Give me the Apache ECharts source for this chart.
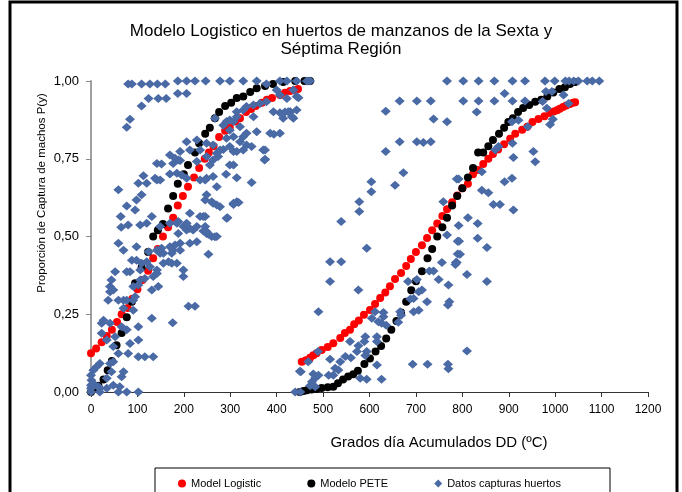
<!DOCTYPE html>
<html>
<head>
<meta charset="utf-8">
<title>Modelo Logistico</title>
<script src="https://cdn.jsdelivr.net/npm/echarts@6/dist/echarts.min.js"></script>
<style>
  html, body { margin: 0; padding: 0; background: #fff; }
  #chart { width: 682px; height: 492px; }
</style>
</head>
<body>
<div id="chart"></div>
<script>
// axis ticks
var xTicks = [0, 100, 200, 300, 400, 500, 600, 700, 800, 900, 1000, 1100, 1200]
var yTicks = [0, 0.25, 0.5, 0.75, 1]

var seriesNames = ['Model Logistic', 'Modelo PETE', 'Datos capturas huertos']

// Model Logistic (two groups of orchards)
var logisticLeft = [
  [0, 0.125], [11, 0.14], [23, 0.16], [34, 0.18], [45, 0.2], [56, 0.225], [66, 0.25], [79, 0.27],
  [89, 0.3], [100, 0.33], [111, 0.36], [123, 0.39], [134, 0.43], [144, 0.46], [155, 0.5], [166, 0.53],
  [177, 0.56], [187, 0.6], [198, 0.63], [209, 0.66], [222, 0.69], [233, 0.72], [245, 0.75], [254, 0.77],
  [264, 0.79], [276, 0.82], [289, 0.84], [299, 0.85], [311, 0.87], [321, 0.88], [334, 0.9], [345, 0.91],
  [355, 0.92], [368, 0.93], [379, 0.94], [390, 0.945], [407, 0.955], [418, 0.962], [429, 0.968],
  [438, 0.97], [446, 0.974]
]
var logisticRight = [
  [454, 0.097], [463, 0.102], [472, 0.11], [479, 0.118], [486, 0.125], [497, 0.135], [510, 0.145],
  [522, 0.157], [537, 0.174], [547, 0.19], [558, 0.2], [567, 0.218], [577, 0.23], [588, 0.248],
  [601, 0.264], [612, 0.283], [623, 0.302], [634, 0.32], [644, 0.34], [655, 0.363], [668, 0.383],
  [679, 0.405], [689, 0.428], [700, 0.45], [713, 0.472], [724, 0.495], [735, 0.52], [746, 0.542],
  [757, 0.566], [767, 0.588], [778, 0.61], [789, 0.632], [800, 0.655], [812, 0.67], [823, 0.7],
  [834, 0.714], [845, 0.733], [856, 0.75], [866, 0.765], [877, 0.78], [890, 0.797], [903, 0.814],
  [914, 0.83], [929, 0.843], [940, 0.853], [951, 0.868], [964, 0.878], [977, 0.887], [989, 0.897],
  [997, 0.902], [1004, 0.906], [1010, 0.911], [1017, 0.916], [1024, 0.921], [1032, 0.926],
  [1038, 0.93], [1043, 0.932]
]

// Modelo PETE
var peteLeft = [
  [0, 0], [8, 0.01], [16, 0.02], [27, 0.04], [36, 0.07], [45, 0.1], [55, 0.15], [66, 0.19],
  [77, 0.24], [88, 0.29], [95, 0.35], [109, 0.4], [123, 0.45], [134, 0.5], [144, 0.52], [155, 0.54],
  [166, 0.59], [177, 0.63], [187, 0.67], [200, 0.7], [209, 0.73], [224, 0.77], [233, 0.8], [246, 0.83],
  [256, 0.85], [267, 0.88], [276, 0.9], [289, 0.92], [302, 0.93], [314, 0.945], [328, 0.95],
  [343, 0.965], [357, 0.977], [375, 0.984], [392, 0.99], [414, 0.997], [440, 1], [460, 1], [472, 1]
]
var peteRight = [
  [450, 0], [458, 0.003], [465, 0.006], [475, 0.008], [486, 0.01], [497, 0.013], [510, 0.015],
  [522, 0.017], [532, 0.028], [543, 0.04], [554, 0.05], [565, 0.057], [575, 0.068], [589, 0.09],
  [601, 0.108], [613, 0.13], [625, 0.148], [636, 0.172], [647, 0.2], [658, 0.228], [668, 0.256],
  [679, 0.29], [690, 0.327], [700, 0.356], [713, 0.388], [725, 0.43], [735, 0.46], [746, 0.5],
  [757, 0.53], [767, 0.56], [778, 0.6], [789, 0.63], [800, 0.655], [812, 0.69], [823, 0.72],
  [834, 0.77], [845, 0.77], [856, 0.79], [866, 0.81], [879, 0.83], [890, 0.85], [899, 0.868],
  [909, 0.88], [920, 0.9], [931, 0.913], [944, 0.923], [957, 0.933], [970, 0.94], [983, 0.95],
  [996, 0.963], [1009, 0.974], [1021, 0.98], [1032, 0.99], [1043, 0.997]
]

// Datos capturas huertos
var capturasLeft = [
  [80, 0.99], [88, 0.99], [109, 0.99], [127, 0.99], [143, 0.99], [160, 0.99],
  [187, 1], [206, 1], [224, 1], [247, 1], [278, 1], [299, 1], [328, 1], [357, 1], [378, 0.99],
  [407, 1], [422, 1], [443, 1], [465, 1], [472, 1],
  [124, 0.944], [145, 0.944], [162, 0.944], [187, 0.96], [206, 0.96], [109, 0.92], [84, 0.877], [77, 0.851],
  [400, 0.971], [407, 0.955], [422, 0.944], [378, 0.933], [364, 0.928], [350, 0.923], [335, 0.918],
  [328, 0.907], [314, 0.901], [393, 0.901], [407, 0.898], [429, 0.901], [436, 0.88], [414, 0.88],
  [350, 0.885], [314, 0.885], [299, 0.875], [285, 0.858], [299, 0.842], [321, 0.853], [357, 0.837],
  [386, 0.832], [407, 0.832], [335, 0.832], [307, 0.821], [292, 0.816], [321, 0.805], [335, 0.794],
  [299, 0.789], [263, 0.794], [249, 0.8], [228, 0.81], [206, 0.805], [192, 0.773], [213, 0.778],
  [235, 0.778], [249, 0.757], [278, 0.778], [307, 0.773], [328, 0.778], [371, 0.778], [375, 0.748],
  [170, 0.762], [181, 0.752], [188, 0.746], [271, 0.768], [263, 0.746], [228, 0.741], [192, 0.744],
  [177, 0.735], [142, 0.735], [152, 0.733], [138, 0.687], [149, 0.682], [185, 0.703], [170, 0.701],
  [195, 0.698], [206, 0.687], [113, 0.695], [102, 0.671], [120, 0.671], [142, 0.682], [235, 0.682],
  [249, 0.687], [271, 0.66], [263, 0.693], [299, 0.73], [307, 0.73], [346, 0.674], [59, 0.65],
  [109, 0.634], [98, 0.617], [77, 0.598], [95, 0.585], [131, 0.564], [106, 0.537], [80, 0.537],
  [64, 0.564], [65, 0.53], [120, 0.543], [149, 0.532], [170, 0.543], [188, 0.548], [199, 0.532],
  [206, 0.521], [213, 0.526], [220, 0.521], [228, 0.532], [246, 0.564], [246, 0.532], [249, 0.516],
  [260, 0.612], [249, 0.634], [246, 0.617], [263, 0.607], [271, 0.601], [278, 0.596], [307, 0.607],
  [314, 0.612], [292, 0.559], [235, 0.564], [213, 0.575], [206, 0.543], [185, 0.543], [188, 0.51],
  [249, 0.51], [260, 0.5], [271, 0.5], [228, 0.483], [213, 0.478], [192, 0.478], [170, 0.467],
  [174, 0.446], [181, 0.473], [152, 0.462], [142, 0.456], [149, 0.446], [124, 0.451], [98, 0.467],
  [59, 0.478], [70, 0.456], [88, 0.424], [98, 0.424], [84, 0.387], [77, 0.387], [52, 0.387],
  [44, 0.36], [41, 0.339], [41, 0.322], [48, 0.328], [37, 0.295], [59, 0.295], [70, 0.295],
  [77, 0.295], [91, 0.295], [95, 0.306], [91, 0.339], [102, 0.344], [106, 0.36], [116, 0.365],
  [131, 0.328], [134, 0.371], [142, 0.381], [145, 0.339], [156, 0.414], [167, 0.419], [174, 0.414],
  [156, 0.446], [142, 0.392], [127, 0.403], [120, 0.419], [109, 0.414], [106, 0.392], [70, 0.269],
  [91, 0.263], [102, 0.21], [102, 0.167], [84, 0.156], [80, 0.124], [59, 0.124], [48, 0.146],
  [34, 0.167], [23, 0.189], [27, 0.231], [23, 0.221], [41, 0.221], [52, 0.178], [66, 0.21], [77, 0.2],
  [48, 0.097], [41, 0.092], [19, 0.092], [12, 0.081], [5, 0.07], [0, 0.054], [1, 0.038], [5, 0.027],
  [16, 0.017], [0, 0.012], [19, 0.012], [34, 0.012], [48, 0.022], [62, 0.017], [77, 0], [102, 0],
  [66, 0.049], [70, 0.065], [44, 0.065], [34, 0.044], [59, 0], [19, 0], [0, 0], [0, 0.022],
  [134, 0.113], [116, 0.113], [102, 0.113], [131, 0.237], [176, 0.223], [210, 0.276], [224, 0.276],
  [199, 0.371], [185, 0.414], [199, 0.392], [177, 0.456], [192, 0.456],
  [418, 0.9], [429, 0.9], [433, 0.885], [443, 0.95], [436, 0.971], [447, 0.946], [443, 0.907],
  [425, 0.901], [394, 0.829], [375, 0.778], [374, 0.746], [314, 0.689], [318, 0.609], [307, 0.603],
  [294, 0.56], [267, 0.499], [253, 0.507], [242, 0.518], [253, 0.443], [242, 0.564], [246, 0.682],
  [291, 0.7], [292, 0.87], [307, 0.87], [328, 0.821], [346, 0.789], [314, 0.773], [285, 0.78],
  [274, 0.757], [256, 0.73], [267, 0.88]
]
var capturasRight = [
  [440, 0], [451, 0], [452, 0.065], [472, 0.02], [479, 0.058], [483, 0.045], [476, 0.033],
  [483, 0.017], [490, 0.054], [468, 0.097], [450, 0.067], [490, 0.258], [489, 0.13],
  [512, 0.054], [522, 0.054], [526, 0.076], [533, 0.071], [515, 0.105], [537, 0.097], [548, 0.114],
  [560, 0.11], [580, 0.044], [594, 0.041], [626, 0.041], [616, 0.087], [573, 0.13], [594, 0.13],
  [591, 0.117], [576, 0.149], [558, 0.162], [591, 0.178], [589, 0.162], [616, 0.178], [616, 0.162],
  [605, 0.237], [619, 0.226], [626, 0.221], [636, 0.215], [612, 0.258], [630, 0.256], [630, 0.242],
  [666, 0.258], [668, 0.247], [662, 0.224], [695, 0.258], [706, 0.263], [693, 0.089], [725, 0.089],
  [769, 0.089], [683, 0.355], [706, 0.322], [713, 0.328], [724, 0.29], [695, 0.301], [688, 0.299],
  [702, 0.362], [729, 0.389], [738, 0.389], [749, 0.362], [770, 0.344], [772, 0.29], [576, 0.328],
  [515, 0.355], [515, 0.419], [539, 0.419], [756, 0.416], [786, 0.416], [594, 0.462], [790, 0.444],
  [790, 0.485], [767, 0.505], [539, 0.548], [578, 0.612], [578, 0.58], [759, 0.612], [604, 0.676],
  [604, 0.644], [655, 0.665], [673, 0.705], [788, 0.685], [635, 0.773], [665, 0.805], [702, 0.805],
  [716, 0.802], [732, 0.805], [738, 0.878], [767, 0.869], [635, 0.903], [665, 0.936], [702, 0.936],
  [732, 0.936], [767, 1],
  [802, 1], [835, 1], [869, 1], [908, 1], [935, 1], [978, 1], [999, 1], [1022, 1], [1030, 1],
  [1040, 1], [1050, 1], [1069, 1], [1080, 1], [1095, 1],
  [802, 0.936], [835, 0.936], [869, 0.936], [908, 0.936], [935, 0.936], [973, 0.934], [891, 0.96],
  [831, 0.9], [1029, 0.928], [980, 0.966], [993, 0.966], [1018, 0.955], [907, 0.869], [921, 0.874],
  [941, 0.853], [989, 0.86], [995, 0.877], [982, 0.912], [908, 0.8], [878, 0.789], [871, 0.778],
  [910, 0.754], [953, 0.773], [957, 0.74], [842, 0.708], [891, 0.676], [907, 0.687], [792, 0.685],
  [842, 0.649], [856, 0.641], [867, 0.603], [881, 0.603], [910, 0.585], [812, 0.56], [833, 0.542],
  [792, 0.535], [833, 0.494], [793, 0.485], [853, 0.465], [795, 0.443], [788, 0.416], [810, 0.378],
  [853, 0.355], [810, 0.132], [769, 0.28], [770, 0.075], [785, 0.41]
]

var chart = echarts.init(document.getElementById('chart'), null, { renderer: 'canvas' })
var font = '"Liberation Sans", Arial, sans-serif'

chart.setOption({
  animation: false,
  backgroundColor: '#fff',
  textStyle: { fontFamily: font },
  title: {
    text: 'Modelo Logistico en huertos de manzanos de la Sexta y\nSéptima Región',
    left: 'center',
    top: 17,
    textStyle: { fontFamily: font, fontSize: 17, fontWeight: 'normal', color: '#000', lineHeight: 18 }
  },
  grid: { left: 91, right: 34, top: 81, bottom: 100, containLabel: false },
  legend: {
    left: 173,
    top: 473,
    itemGap: 46,
    itemWidth: 8,
    itemHeight: 8,
    textStyle: { fontFamily: font, fontSize: 11, color: '#000' },
    data: [
      { name: seriesNames[0], icon: 'circle' },
      { name: seriesNames[1], icon: 'circle' },
      { name: seriesNames[2], icon: 'diamond' }
    ]
  },
  xAxis: {
    type: 'value',
    min: xTicks[0],
    max: xTicks[xTicks.length - 1],
    interval: 100,
    splitLine: { show: false },
    axisLine: { lineStyle: { color: '#333', width: 1 } },
    axisTick: { length: 5, lineStyle: { color: '#333' } },
    axisLabel: {
      fontFamily: font,
      fontSize: 12,
      color: '#000',
      margin: 12,
      formatter: function(v) { return String(v) }
    }
  },
  yAxis: {
    type: 'value',
    min: yTicks[0],
    max: yTicks[yTicks.length - 1],
    interval: 0.25,
    splitLine: { show: false },
    axisLine: { show: true, lineStyle: { color: '#a0a0a0', width: 2 } },
    axisTick: { show: true, length: 5, lineStyle: { color: '#888' } },
    axisLabel: {
      fontFamily: font,
      fontSize: 13,
      color: '#000',
      margin: 12,
      formatter: function(v) { return v.toFixed(2).replace('.', ',') }
    }
  },
  graphic: [
    {
      type: 'rect',
      shape: { x: 10, y: 2, width: 667, height: 510 },
      style: { fill: 'none', stroke: '#000', lineWidth: 3 },
      silent: true
    },
    {
      type: 'rect',
      shape: { x: 155, y: 468, width: 455, height: 40 },
      style: { fill: 'none', stroke: '#000', lineWidth: 1 },
      silent: true
    },
    {
      type: 'text',
      x: 439,
      y: 443,
      style: {
        text: 'Grados día Acumulados DD (ºC)',
        font: '15px ' + font,
        fill: '#000',
        textAlign: 'center',
        textVerticalAlign: 'middle'
      }
    },
    {
      type: 'text',
      x: 42,
      y: 193,
      rotation: Math.PI / 2,
      style: {
        text: 'Proporción de Captura de machos P(y)',
        font: '11.5px ' + font,
        fill: '#000',
        textAlign: 'center',
        textVerticalAlign: 'middle'
      }
    }
  ],
  series: [
    {
      name: seriesNames[0],
      type: 'scatter',
      symbol: 'circle',
      symbolSize: 8,
      itemStyle: { color: '#ff0000', opacity: 1 },
      data: logisticLeft.concat(logisticRight)
    },
    {
      name: seriesNames[1],
      type: 'scatter',
      symbol: 'circle',
      symbolSize: 8,
      itemStyle: { color: '#000', opacity: 1 },
      data: peteLeft.concat(peteRight)
    },
    {
      name: seriesNames[2],
      type: 'scatter',
      symbol: 'diamond',
      symbolSize: [10, 9],
      itemStyle: { color: '#4a6aa5', opacity: 1 },
      data: capturasLeft.concat(capturasRight)
    }
  ]
})
</script>
</body>
</html>
